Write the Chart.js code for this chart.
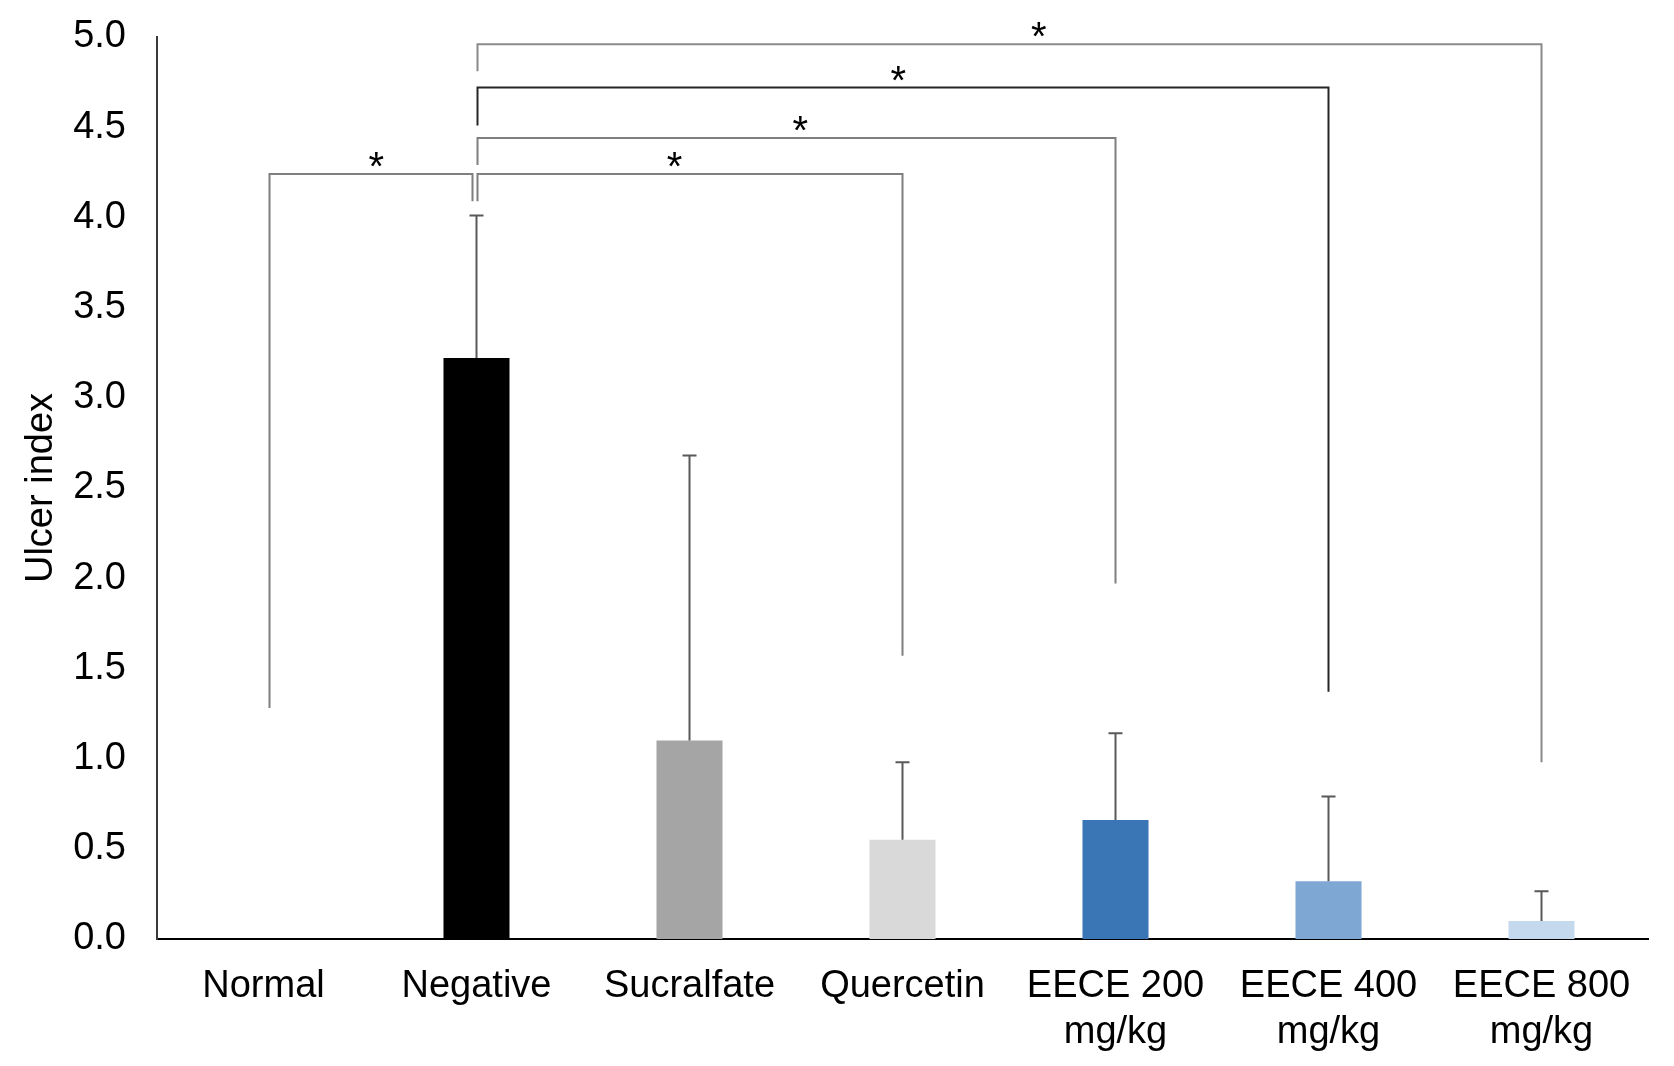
<!DOCTYPE html>
<html>
<head>
<meta charset="utf-8">
<script src="https://cdn.jsdelivr.net/npm/chart.js@4.4.1/dist/chart.umd.min.js"></script>
<style>
  html, body { margin: 0; padding: 0; background: #fff; }
  canvas { display: block; }
</style>
</head>
<body>
<canvas id="chart" width="1674" height="1066"></canvas>
<script>
const groups = ['Normal', 'Negative', 'Sucralfate', 'Quercetin', ['EECE 200', 'mg/kg'], ['EECE 400', 'mg/kg'], ['EECE 800', 'mg/kg']]
const ulcerMean = [0, 3.22, 1.10, 0.55, 0.66, 0.32, 0.10]
const ulcerSD = [0, 0.79, 1.58, 0.43, 0.48, 0.47, 0.165]
const yTicks = [0, 0.5, 1, 1.5, 2, 2.5, 3, 3.5, 4, 4.5, 5]

// significance brackets: from group, to group, bar height, leg ends, star position
const bracketFrom = [0, 1, 1, 1, 1]
const bracketTo = [1, 3, 4, 5, 6]
const bracketTop = [4.24, 4.24, 4.44, 4.72, 4.96]
const bracketFromEnd = [1.28, 4.09, 4.29, 4.51, 4.81]
const bracketToEnd = [4.09, 1.57, 1.97, 1.37, 0.98]
const starAt = [0.53, 1.93, 2.52, 2.98, 3.64]

const barColors = ['#bfbfbf', '#000000', '#a5a5a5', '#d9d9d9', '#3a76b5', '#7fa7d4', '#c5d9ee']
const bracketColors = ['#7f7f7f', '#7f7f7f', '#7f7f7f', '#262626', '#8a8a8a']
// small pixel nudges so the legs don't sit on top of each other at Negative
const legShiftFrom = [6, 1, 1, 1, 1]
const legShiftTo = [-4, 0, 0, 0, 0]
const FONT = '"Liberation Sans", Arial, sans-serif'

const errorBars = {
  id: 'errorBars',
  afterDatasetsDraw(chart) {
    const ctx = chart.ctx
    const meta = chart.getDatasetMeta(0)
    const y = chart.scales.y
    ctx.save()
    ctx.strokeStyle = '#595959'
    ctx.lineWidth = 2
    meta.data.forEach((bar, i) => {
      if (!ulcerSD[i]) return
      const top = y.getPixelForValue(ulcerMean[i] + ulcerSD[i])
      ctx.beginPath()
      ctx.moveTo(bar.x, bar.y)
      ctx.lineTo(bar.x, top)
      ctx.moveTo(bar.x - 7, top)
      ctx.lineTo(bar.x + 7, top)
      ctx.stroke()
    })
    ctx.restore()
  }
}

const brackets = {
  id: 'brackets',
  afterDraw(chart) {
    const ctx = chart.ctx
    const x = chart.scales.x
    const y = chart.scales.y
    ctx.save()
    ctx.lineWidth = 2
    bracketFrom.forEach((a, i) => {
      const x1 = x.getPixelForValue(a) + legShiftFrom[i]
      const x2 = x.getPixelForValue(bracketTo[i]) + legShiftTo[i]
      const yt = y.getPixelForValue(bracketTop[i])
      ctx.strokeStyle = bracketColors[i]
      ctx.beginPath()
      ctx.moveTo(x1, y.getPixelForValue(bracketFromEnd[i]))
      ctx.lineTo(x1, yt)
      ctx.lineTo(x2, yt)
      ctx.lineTo(x2, y.getPixelForValue(bracketToEnd[i]))
      ctx.stroke()
      ctx.fillStyle = '#000'
      ctx.font = '40px ' + FONT
      ctx.textAlign = 'center'
      ctx.textBaseline = 'alphabetic'
      ctx.fillText('*', x.getPixelForValue(starAt[i]), yt + 6)
    })
    ctx.restore()
  }
}

new Chart(document.getElementById('chart'), {
  type: 'bar',
  data: {
    labels: groups,
    datasets: [{
      data: ulcerMean,
      backgroundColor: barColors,
      borderWidth: 0,
      barPercentage: 0.31,
      categoryPercentage: 1
    }]
  },
  options: {
    responsive: false,
    animation: false,
    devicePixelRatio: 1,
    layout: { padding: { top: 37, right: 26, left: 0, bottom: 0 } },
    plugins: { legend: { display: false }, tooltip: { enabled: false } },
    scales: {
      x: {
        grid: { display: false, drawTicks: false },
        border: { display: true, color: '#000', width: 2 },
        ticks: { color: '#000', font: { family: FONT, size: 38, lineHeight: 1.2 }, padding: 25, maxRotation: 0, autoSkip: false },
        afterFit(scale) { scale.height = 127 }
      },
      y: {
        min: 0,
        max: 5,
        afterBuildTicks(scale) { scale.ticks = yTicks.map(v => ({ value: v })) },
        grid: { display: false, drawTicks: false },
        border: { display: true, color: '#3a3a3a', width: 2 },
        ticks: { color: '#000', font: { family: FONT, size: 38 }, padding: 31, callback: v => v.toFixed(1) },
        title: { display: true, text: 'Ulcer index', color: '#000', font: { family: FONT, size: 38 }, padding: { top: 19, bottom: 0 } },
        afterFit(scale) {
          scale.width = 157
          // tick padding would otherwise push the plot top down
          scale.paddingTop = 0
          scale.paddingBottom = 0
        }
      }
    }
  },
  plugins: [errorBars, brackets]
})
</script>
</body>
</html>
